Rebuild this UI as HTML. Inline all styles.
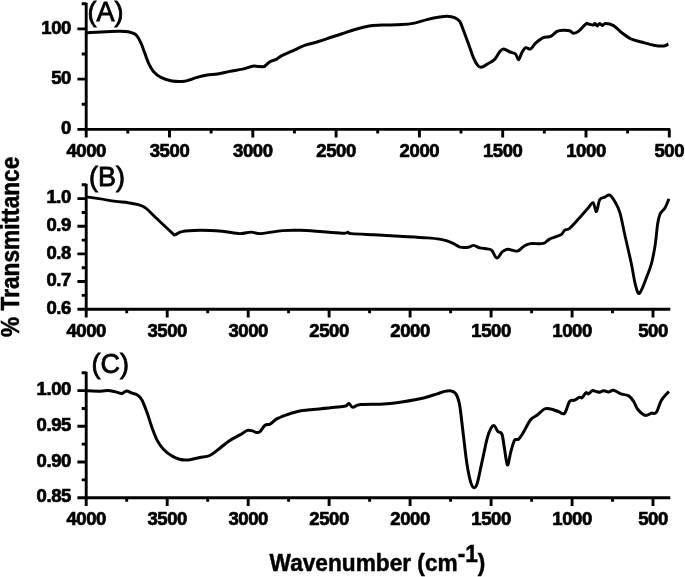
<!DOCTYPE html>
<html><head><meta charset="utf-8"><title>FTIR spectra</title>
<style>
html,body{margin:0;padding:0;background:#fff;}
body{width:685px;height:577px;overflow:hidden;}
svg{display:block;}
text{font-family:"Liberation Sans",Arial,Helvetica,sans-serif;fill:#000;}
.tk{font-size:18.5px;font-weight:bold;stroke:#000;stroke-width:0.7px;letter-spacing:-0.4px;}
.tag{font-size:27px;stroke:#000;stroke-width:0.8px;}
.lab{font-size:22.7px;font-weight:bold;stroke:#000;stroke-width:0.5px;}
.cv{fill:none;stroke:#000;stroke-linejoin:round;stroke-linecap:butt;}
</style></head>
<body>
<svg width="685" height="577" viewBox="0 0 685 577">
<rect width="685" height="577" fill="#fff"/>
<path d="M86.2,2.77500000000002 V129.4 H670.3" fill="none" stroke="#000" stroke-width="2.9" stroke-linecap="butt" stroke-linejoin="miter"/>
<path d="M86.2,129.4 h-8.8 M86.2,79.15 h-8.8 M86.2,28.90000000000002 h-8.8 M86.2,104.275 h-4.5 M86.2,54.02500000000002 h-4.5 M86.2,3.77500000000002 h-4.5 M86.2,129.4 v8.2 M169.5,129.4 v8.2 M252.8,129.4 v8.2 M336.1,129.4 v8.2 M419.4,129.4 v8.2 M502.7,129.4 v8.2 M586.0,129.4 v8.2 M669.3,129.4 v8.2 M127.8,129.4 v4.0 M211.1,129.4 v4.0 M294.4,129.4 v4.0 M377.7,129.4 v4.0 M461.0,129.4 v4.0 M544.3,129.4 v4.0 M627.6,129.4 v4.0 " fill="none" stroke="#000" stroke-width="2.9"/>
<text x="86.2" y="156.7" text-anchor="middle" class="tk">4000</text>
<text x="169.5" y="156.7" text-anchor="middle" class="tk">3500</text>
<text x="252.8" y="156.7" text-anchor="middle" class="tk">3000</text>
<text x="336.1" y="156.7" text-anchor="middle" class="tk">2500</text>
<text x="419.4" y="156.7" text-anchor="middle" class="tk">2000</text>
<text x="502.7" y="156.7" text-anchor="middle" class="tk">1500</text>
<text x="586.0" y="156.7" text-anchor="middle" class="tk">1000</text>
<text x="669.3" y="156.7" text-anchor="middle" class="tk">500</text>
<text x="71.0" y="134.0" text-anchor="end" class="tk">0</text>
<text x="71.0" y="83.8" text-anchor="end" class="tk">50</text>
<text x="71.0" y="33.5" text-anchor="end" class="tk">100</text>
<text x="87.6" y="21.3" class="tag">(A)</text>
<path d="M86.2,32.7 C88.6,32.6 95.3,32.1 100.6,31.9 C105.9,31.6 113.6,31.2 118.2,31.2 C122.8,31.2 125.3,31.1 128.2,31.7 C131.1,32.3 133.7,32.9 135.8,34.7 C137.9,36.5 139.3,39.7 140.8,42.7 C142.3,45.7 143.3,49.4 144.6,52.8 C145.9,56.1 146.9,59.7 148.4,62.8 C149.9,65.9 151.3,69.2 153.4,71.6 C155.5,74.0 157.8,75.9 160.9,77.4 C164.0,79.0 168.1,80.3 172.0,80.9 C175.9,81.5 181.7,81.4 184.6,81.2 C187.5,81.0 187.5,80.5 189.6,79.9 C191.7,79.3 194.2,78.2 197.1,77.4 C200.0,76.6 203.8,75.7 207.2,75.1 C210.6,74.5 213.5,74.5 217.3,73.9 C221.1,73.3 225.6,72.2 229.8,71.4 C234.0,70.6 238.6,69.9 242.4,69.1 C246.2,68.2 249.9,66.8 252.5,66.3 C255.1,65.8 256.1,66.4 258.0,66.4 C259.9,66.5 262.4,66.9 263.8,66.6 C265.2,66.3 265.2,65.6 266.3,64.8 C267.4,64.0 268.4,62.5 270.1,61.6 C271.8,60.7 274.4,60.3 276.3,59.3 C278.2,58.3 278.7,57.2 281.4,55.8 C284.1,54.4 288.7,52.6 292.7,50.8 C296.7,49.0 301.1,46.7 305.3,45.2 C309.5,43.7 313.2,43.1 317.8,41.7 C322.4,40.3 328.5,38.1 332.9,36.7 C337.3,35.3 340.5,34.4 344.0,33.2 C347.5,32.0 349.9,30.9 354.1,29.7 C358.3,28.5 364.5,26.9 369.1,26.1 C373.7,25.3 376.2,25.4 381.7,25.1 C387.1,24.9 396.4,24.9 401.8,24.6 C407.2,24.3 410.2,23.9 414.4,23.1 C418.6,22.3 422.8,20.6 427.0,19.6 C431.2,18.6 436.1,17.7 439.5,17.1 C442.9,16.6 444.6,16.2 447.1,16.3 C449.6,16.4 452.5,16.8 454.6,17.6 C456.7,18.5 458.2,19.3 459.7,21.4 C461.2,23.5 461.9,26.4 463.4,30.2 C464.9,34.0 466.8,39.4 468.5,44.0 C470.2,48.6 472.0,54.3 473.5,57.8 C475.0,61.3 476.1,63.2 477.3,64.8 C478.6,66.4 479.3,67.4 481.0,67.3 C482.7,67.2 485.0,65.5 487.3,64.1 C489.6,62.7 492.8,61.2 494.9,59.1 C497.0,57.0 498.4,53.2 499.9,51.5 C501.4,49.8 502.0,48.9 503.7,49.0 C505.4,49.1 508.0,51.2 510.0,52.0 C512.0,52.8 514.1,52.7 515.5,54.0 C516.9,55.3 517.5,60.0 518.5,59.8 C519.5,59.6 520.6,54.8 521.8,52.8 C523.0,50.8 524.1,48.3 525.6,47.7 C527.1,47.1 528.9,49.8 530.6,49.0 C532.3,48.2 533.5,45.1 535.6,43.2 C537.7,41.3 540.7,38.8 543.2,37.7 C545.7,36.6 548.4,37.5 550.7,36.4 C553.0,35.3 554.9,32.4 557.0,31.4 C559.1,30.4 561.2,30.3 563.3,30.2 C565.4,30.1 567.9,30.2 569.6,30.7 C571.3,31.2 571.8,33.1 573.3,33.2 C574.8,33.3 576.3,33.0 578.4,31.4 C580.5,29.8 584.2,25.1 585.9,23.9 C587.6,22.6 587.2,23.7 588.4,23.9 C589.6,24.1 591.9,25.2 593.0,25.1 C594.1,25.0 594.3,23.3 595.0,23.4 C595.7,23.5 596.4,25.9 597.2,25.9 C598.0,25.9 598.9,23.4 599.7,23.4 C600.6,23.3 601.3,25.6 602.3,25.6 C603.3,25.6 603.6,23.6 605.5,23.6 C607.4,23.6 611.0,24.2 613.6,25.6 C616.2,27.0 618.2,30.0 621.1,32.2 C624.0,34.4 627.9,37.4 631.2,39.0 C634.6,40.6 637.4,41.0 641.2,42.0 C645.0,43.0 650.0,44.5 653.8,45.2 C657.6,45.9 661.5,46.2 663.9,46.0 C666.3,45.8 667.6,44.3 668.4,44.0" class="cv" stroke-width="3.0"/>
<path d="M86.2,183.77499999999998 V309.2 H670.3" fill="none" stroke="#000" stroke-width="2.9" stroke-linecap="butt" stroke-linejoin="miter"/>
<path d="M86.2,309.2 h-8.8 M86.2,281.55 h-8.8 M86.2,253.89999999999998 h-8.8 M86.2,226.24999999999997 h-8.8 M86.2,198.59999999999997 h-8.8 M86.2,295.375 h-4.5 M86.2,267.72499999999997 h-4.5 M86.2,240.075 h-4.5 M86.2,212.425 h-4.5 M86.2,184.77499999999998 h-4.5 M86.2,309.2 v8.2 M167.2,309.2 v8.2 M248.2,309.2 v8.2 M329.1,309.2 v8.2 M410.1,309.2 v8.2 M491.1,309.2 v8.2 M572.1,309.2 v8.2 M653.0,309.2 v8.2 M126.7,309.2 v4.0 M207.7,309.2 v4.0 M288.6,309.2 v4.0 M369.6,309.2 v4.0 M450.6,309.2 v4.0 M531.6,309.2 v4.0 M612.5,309.2 v4.0 " fill="none" stroke="#000" stroke-width="2.9"/>
<text x="86.2" y="336.5" text-anchor="middle" class="tk">4000</text>
<text x="167.2" y="336.5" text-anchor="middle" class="tk">3500</text>
<text x="248.2" y="336.5" text-anchor="middle" class="tk">3000</text>
<text x="329.1" y="336.5" text-anchor="middle" class="tk">2500</text>
<text x="410.1" y="336.5" text-anchor="middle" class="tk">2000</text>
<text x="491.1" y="336.5" text-anchor="middle" class="tk">1500</text>
<text x="572.1" y="336.5" text-anchor="middle" class="tk">1000</text>
<text x="653.0" y="336.5" text-anchor="middle" class="tk">500</text>
<text x="71.0" y="313.8" text-anchor="end" class="tk">0.6</text>
<text x="71.0" y="286.2" text-anchor="end" class="tk">0.7</text>
<text x="71.0" y="258.5" text-anchor="end" class="tk">0.8</text>
<text x="71.0" y="230.8" text-anchor="end" class="tk">0.9</text>
<text x="71.0" y="203.2" text-anchor="end" class="tk">1.0</text>
<text x="89.1" y="185.8" class="tag">(B)</text>
<path d="M86.2,196.9 C88.6,197.2 95.7,198.2 100.6,198.9 C105.5,199.7 111.1,200.8 115.7,201.4 C120.3,202.0 124.4,202.1 128.2,202.7 C132.0,203.2 135.4,203.8 138.3,204.7 C141.2,205.6 142.9,206.0 145.8,208.2 C148.7,210.4 151.5,213.7 155.9,217.8 C160.3,221.9 168.8,230.0 172.0,232.8 C175.2,235.6 173.3,235.0 175.0,234.8 C176.7,234.6 177.9,232.3 182.0,231.6 C186.1,230.8 193.0,230.4 199.7,230.3 C206.4,230.2 215.6,230.8 222.3,231.3 C229.0,231.9 235.1,233.5 239.9,233.6 C244.7,233.7 247.6,232.1 251.2,232.1 C254.8,232.1 256.1,233.8 261.3,233.6 C266.5,233.3 276.1,231.1 282.6,230.6 C289.1,230.1 293.5,230.1 300.2,230.3 C306.9,230.5 315.6,231.3 322.9,231.8 C330.2,232.3 339.9,233.2 344.0,233.3 C348.1,233.4 346.6,232.2 347.8,232.3 C349.1,232.4 347.1,233.2 351.5,233.6 C355.9,234.0 366.2,234.4 374.2,234.8 C382.2,235.2 390.5,235.8 399.3,236.3 C408.1,236.8 420.3,237.4 427.0,237.9 C433.7,238.4 436.1,238.6 439.5,239.1 C442.9,239.6 444.6,240.1 447.1,240.9 C449.6,241.7 452.4,243.1 454.6,244.1 C456.8,245.1 457.9,246.7 460.2,247.2 C462.5,247.7 466.3,247.5 468.5,247.2 C470.7,246.9 471.6,245.3 473.5,245.4 C475.4,245.5 477.5,247.3 479.8,247.9 C482.1,248.5 485.3,248.5 487.3,248.9 C489.3,249.3 490.2,248.9 491.8,250.4 C493.4,251.9 495.1,257.8 496.9,258.0 C498.7,258.2 500.6,253.2 502.4,251.7 C504.1,250.2 505.6,249.4 507.4,249.2 C509.2,249.0 511.2,250.1 513.0,250.4 C514.8,250.7 516.1,251.7 518.0,250.9 C519.9,250.2 522.2,247.1 524.3,245.9 C526.4,244.7 527.5,244.0 530.6,243.6 C533.8,243.2 540.1,244.2 543.2,243.4 C546.4,242.7 546.6,240.5 549.5,239.1 C552.4,237.7 558.3,236.3 560.8,234.8 C563.3,233.3 563.0,231.4 564.5,230.3 C566.0,229.2 567.3,230.2 569.6,228.3 C571.9,226.4 575.3,222.4 578.4,219.0 C581.5,215.6 586.0,210.4 588.4,207.7 C590.8,205.0 591.6,202.1 593.0,202.7 C594.4,203.3 595.4,212.0 596.5,211.5 C597.6,211.0 598.3,202.1 599.7,199.7 C601.1,197.3 603.1,197.9 604.8,197.1 C606.5,196.3 608.1,194.4 609.8,195.1 C611.5,195.8 613.1,198.5 614.8,201.4 C616.5,204.3 618.2,207.0 619.9,212.7 C621.6,218.3 623.0,226.9 624.9,235.3 C626.8,243.7 629.5,255.0 631.2,263.0 C632.9,271.0 633.8,278.1 635.0,283.1 C636.2,288.1 637.2,291.9 638.2,293.1 C639.2,294.4 639.9,293.1 641.2,290.6 C642.6,288.1 644.6,282.5 646.3,278.1 C648.0,273.7 649.8,269.6 651.3,264.2 C652.8,258.8 654.0,252.1 655.1,245.4 C656.2,238.7 656.8,229.2 657.6,224.0 C658.4,218.8 658.9,216.7 660.1,214.0 C661.4,211.3 663.6,210.2 665.1,207.7 C666.6,205.2 668.3,200.4 668.9,198.9" class="cv" stroke-width="2.9"/>
<path d="M86.2,371.75 V497.7 H670.3" fill="none" stroke="#000" stroke-width="2.9" stroke-linecap="butt" stroke-linejoin="miter"/>
<path d="M86.2,497.7 h-8.8 M86.2,461.99999999999994 h-8.8 M86.2,426.3 h-8.8 M86.2,390.59999999999997 h-8.8 M86.2,479.84999999999997 h-4.5 M86.2,444.1499999999999 h-4.5 M86.2,408.45 h-4.5 M86.2,372.75000000000006 h-4.5 M86.2,497.7 v8.2 M167.2,497.7 v8.2 M248.2,497.7 v8.2 M329.1,497.7 v8.2 M410.1,497.7 v8.2 M491.1,497.7 v8.2 M572.1,497.7 v8.2 M653.0,497.7 v8.2 M126.7,497.7 v4.0 M207.7,497.7 v4.0 M288.6,497.7 v4.0 M369.6,497.7 v4.0 M450.6,497.7 v4.0 M531.6,497.7 v4.0 M612.5,497.7 v4.0 " fill="none" stroke="#000" stroke-width="2.9"/>
<text x="86.2" y="525.0" text-anchor="middle" class="tk">4000</text>
<text x="167.2" y="525.0" text-anchor="middle" class="tk">3500</text>
<text x="248.2" y="525.0" text-anchor="middle" class="tk">3000</text>
<text x="329.1" y="525.0" text-anchor="middle" class="tk">2500</text>
<text x="410.1" y="525.0" text-anchor="middle" class="tk">2000</text>
<text x="491.1" y="525.0" text-anchor="middle" class="tk">1500</text>
<text x="572.1" y="525.0" text-anchor="middle" class="tk">1000</text>
<text x="653.0" y="525.0" text-anchor="middle" class="tk">500</text>
<text x="71.0" y="502.3" text-anchor="end" class="tk">0.85</text>
<text x="71.0" y="466.6" text-anchor="end" class="tk">0.90</text>
<text x="71.0" y="430.9" text-anchor="end" class="tk">0.95</text>
<text x="71.0" y="395.2" text-anchor="end" class="tk">1.00</text>
<text x="91.6" y="373.3" class="tag">(C)</text>
<path d="M86.2,390.7 C88.6,390.8 96.9,391.2 100.6,391.2 C104.2,391.1 105.6,390.3 108.1,390.4 C110.6,390.5 113.4,391.4 115.7,391.9 C118.0,392.4 120.1,393.6 121.9,393.4 C123.7,393.2 124.8,390.9 126.5,390.9 C128.2,390.9 130.1,392.5 132.0,393.2 C133.9,393.9 136.1,394.0 137.8,395.2 C139.5,396.4 140.6,397.3 142.1,400.2 C143.6,403.1 145.4,408.2 147.1,412.8 C148.8,417.4 150.4,423.3 152.1,427.9 C153.8,432.5 155.3,436.8 157.2,440.4 C159.1,443.9 160.9,446.6 163.4,449.2 C165.9,451.8 169.3,454.3 172.0,456.0 C174.7,457.7 176.8,458.6 179.5,459.3 C182.2,460.0 184.9,460.3 188.3,460.0 C191.7,459.7 196.1,458.2 199.7,457.5 C203.3,456.8 206.6,456.9 209.7,455.5 C212.8,454.1 215.2,451.7 218.5,449.2 C221.8,446.7 226.2,442.8 229.8,440.4 C233.4,438.0 237.0,436.6 239.9,434.9 C242.8,433.2 245.3,431.1 247.4,430.4 C249.5,429.7 251.0,430.6 252.5,430.9 C254.0,431.2 254.9,432.3 256.2,432.4 C257.4,432.5 258.5,432.8 260.0,431.6 C261.5,430.4 263.3,426.6 265.0,425.3 C266.7,424.1 268.2,425.1 270.1,424.1 C272.0,423.1 273.8,420.6 276.3,419.1 C278.8,417.6 281.5,416.6 285.1,415.3 C288.7,414.0 293.1,412.5 297.7,411.5 C302.3,410.5 307.4,410.1 312.8,409.5 C318.2,408.9 325.2,408.4 330.4,407.8 C335.6,407.2 341.3,406.6 344.0,406.2 C346.7,405.8 345.7,406.1 346.5,405.7 C347.3,405.2 347.9,403.2 349.0,403.5 C350.1,403.8 350.9,407.0 352.8,407.2 C354.7,407.4 355.1,405.0 360.3,404.5 C365.5,404.0 377.3,404.4 384.2,404.0 C391.1,403.6 395.1,403.1 401.8,402.0 C408.5,400.9 418.6,399.1 424.5,397.7 C430.4,396.3 433.6,394.9 437.0,393.9 C440.4,392.8 442.3,391.9 444.6,391.4 C446.9,390.9 449.0,390.5 450.9,390.9 C452.8,391.3 454.4,391.5 455.9,393.9 C457.4,396.3 458.4,398.3 459.7,405.2 C460.9,412.1 462.1,425.3 463.4,435.4 C464.6,445.4 465.9,457.6 467.2,465.5 C468.5,473.4 469.8,479.4 471.0,483.1 C472.2,486.8 473.1,487.7 474.2,487.7 C475.2,487.7 475.9,487.6 477.3,483.1 C478.7,478.6 480.6,468.0 482.3,460.5 C484.0,453.0 485.8,443.3 487.3,437.9 C488.8,432.5 489.9,429.9 491.1,427.9 C492.3,425.9 493.3,425.2 494.4,425.8 C495.5,426.4 496.6,430.2 497.9,431.6 C499.1,433.0 500.8,431.4 501.9,434.1 C503.0,436.8 503.5,442.9 504.4,448.0 C505.3,453.1 506.4,464.2 507.4,465.0 C508.4,465.8 509.6,456.5 510.5,453.0 C511.4,449.5 512.2,446.4 513.0,444.2 C513.8,442.0 514.1,440.5 515.0,439.7 C515.9,438.9 517.1,440.3 518.5,439.2 C519.9,438.1 521.1,436.1 523.1,432.9 C525.1,429.7 528.3,422.7 530.6,419.8 C532.9,416.9 534.6,417.1 536.9,415.3 C539.2,413.5 542.1,410.1 544.4,409.0 C546.7,407.9 548.4,408.6 550.7,409.0 C553.0,409.4 556.0,410.8 558.3,411.5 C560.6,412.2 562.6,415.0 564.5,413.3 C566.4,411.6 567.9,403.7 569.6,401.5 C571.3,399.3 572.9,400.9 574.6,400.2 C576.3,399.5 578.4,397.6 579.6,397.2 C580.9,396.8 581.1,398.4 582.1,397.7 C583.1,396.9 584.9,393.3 585.9,392.7 C586.9,392.1 587.3,394.2 588.4,393.9 C589.5,393.6 590.9,391.1 592.2,390.7 C593.5,390.3 594.8,391.1 596.0,391.4 C597.2,391.6 598.5,392.3 599.7,392.2 C601.0,392.1 602.0,390.8 603.5,390.7 C605.0,390.6 606.8,392.0 608.5,391.9 C610.2,391.8 611.5,389.9 613.6,390.2 C615.7,390.5 618.6,392.9 621.1,393.9 C623.6,394.8 626.6,394.6 628.7,395.9 C630.8,397.2 632.2,399.3 633.7,401.5 C635.2,403.7 635.6,406.7 637.5,409.0 C639.4,411.3 642.7,414.6 645.0,415.3 C647.3,416.0 649.4,413.8 651.3,413.3 C653.2,412.8 654.6,414.5 656.3,412.3 C658.0,410.1 659.3,403.7 661.4,400.2 C663.5,396.7 667.6,392.9 668.9,391.4" class="cv" stroke-width="3.0"/>
<text class="lab" style="font-size:25px" transform="translate(19.0,246.8) rotate(-90) scale(0.908,1)" text-anchor="middle">% Transmittance</text>
<text class="lab" style="font-size:24.8px" transform="translate(269.6,571.3) scale(0.914,1)">Wavenumber (cm<tspan dy="-9">-1</tspan><tspan dy="9">)</tspan></text>
</svg>
</body></html>
